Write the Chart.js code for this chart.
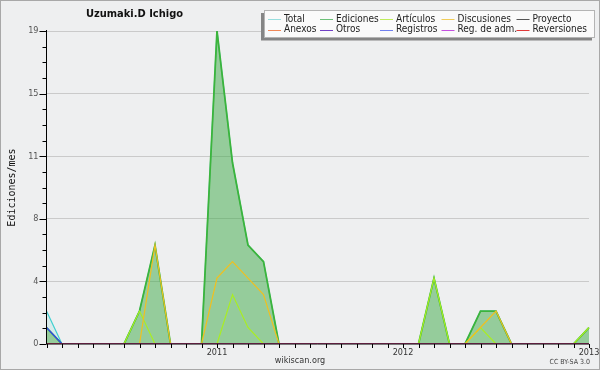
<!DOCTYPE html>
<html><head><meta charset="utf-8">
<script src="https://cdn.jsdelivr.net/npm/chart.js@4/dist/chart.umd.min.js"></script>
<style>html,body{margin:0;padding:0;background:#eeeff0;}canvas{display:block;}</style>
</head><body>
<canvas id="c" width="600" height="370"></canvas>
<script>
// ---- data ----
const months = ['2010-02','2010-03','2010-04','2010-05','2010-06','2010-07','2010-08','2010-09','2010-10','2010-11','2010-12',
  '2011-01','2011-02','2011-03','2011-04','2011-05','2011-06','2011-07','2011-08','2011-09','2011-10','2011-11','2011-12',
  '2012-01','2012-02','2012-03','2012-04','2012-05','2012-06','2012-07','2012-08','2012-09','2012-10','2012-11','2012-12',
  '2013-01'];
const seriesNames = ['Total','Ediciones','Artículos','Discusiones','Proyecto','Anexos','Otros','Registros','Reg. de adm.','Reversiones'];
const total       = [2,0,0,0,0,0,2,6,0,0,0,19,11,6,5,0,0,0,0,0,0,0,0,0,0,4,0,0,2,2,0,0,0,0,0,1];
const ediciones   = [1,0,0,0,0,0,2,6,0,0,0,19,11,6,5,0,0,0,0,0,0,0,0,0,0,4,0,0,2,2,0,0,0,0,0,1];
const articulos   = [0,0,0,0,0,0,2,0,0,0,0,0,3,1,0,0,0,0,0,0,0,0,0,0,0,4,0,0,1,0,0,0,0,0,0,1];
const discusiones = [0,0,0,0,0,0,0,6,0,0,0,4,5,4,3,0,0,0,0,0,0,0,0,0,0,0,0,0,1,2,0,0,0,0,0,0];
const proyecto    = [0,0,0,0,0,0,0,0,0,0,0,0,0,0,0,0,0,0,0,0,0,0,0,0,0,0,0,0,0,0,0,0,0,0,0,0];
const anexos      = [0,0,0,0,0,0,0,0,0,0,0,0,0,0,0,0,0,0,0,0,0,0,0,0,0,0,0,0,0,0,0,0,0,0,0,0];
const otros       = [0,0,0,0,0,0,0,0,0,0,0,0,0,0,0,0,0,0,0,0,0,0,0,0,0,0,0,0,0,0,0,0,0,0,0,0];
const registros   = [1,0,0,0,0,0,0,0,0,0,0,0,0,0,0,0,0,0,0,0,0,0,0,0,0,0,0,0,0,0,0,0,0,0,0,0];
const regAdm      = [0,0,0,0,0,0,0,0,0,0,0,0,0,0,0,0,0,0,0,0,0,0,0,0,0,0,0,0,0,0,0,0,0,0,0,0];
const reversiones = [0,0,0,0,0,0,0,0,0,0,0,0,0,0,0,0,0,0,0,0,0,0,0,0,0,0,0,0,0,0,0,0,0,0,0,0];
const yTickValues = [0, 3.8, 7.6, 11.4, 15.2, 19];
const yTickLabels = ['0','4','8','11','15','19'];
const yMax = 19;

// ---- styles ----
const COND = '"DejaVu Sans Condensed", "DejaVu Sans", sans-serif';
const lineColors = ['#40d0d0','#3cb43c','#aaee22','#f0c020','#555555','#f08040','#6a3cc0','#3344ee','#c040e0','#e03030'];
const legendColors = ['#98dede','#6cc078','#bfec5c','#f0cc58','#555555','#f08858','#7040c4','#7080ee','#c450e0','#e03838'];
const allSeries = [total, ediciones, articulos, discusiones, proyecto, anexos, otros, registros, regAdm, reversiones];

const datasets = allSeries.map((d, i) => ({
  label: seriesNames[i],
  data: d,
  borderColor: lineColors[i],
  borderWidth: i === 1 ? 1.8 : 1.2,
  pointRadius: 0,
  tension: 0,
  order: 20 - i,
  fill: i === 0 ? '+1' : (i === 1 ? 'origin' : false),
  backgroundColor: i === 0 ? 'rgba(64,208,208,0.12)' : (i === 1 ? 'rgba(60,170,70,0.5)' : 'transparent')
}));

const decor = {
  id: 'decor',
  afterDatasetsDraw(chart) {
    const ctx = chart.ctx, a = chart.chartArea, y = chart.scales.y, x = chart.scales.x;
    ctx.save();
    ctx.strokeStyle = '#000'; ctx.lineWidth = 1;
    ctx.beginPath();
    ctx.moveTo(a.left, a.top - 1); ctx.lineTo(a.left, a.bottom);
    ctx.lineTo(a.right, a.bottom);
    ctx.stroke();
    for (let i = 0; i <= 20; i++) {
      const py = Math.round(y.getPixelForValue(i * yMax / 20)) + 0.5;
      const len = (i % 4 === 0) ? 7 : 4;
      ctx.beginPath(); ctx.moveTo(a.left - len, py); ctx.lineTo(a.left, py); ctx.stroke();
    }
    for (let i = 0; i < months.length; i++) {
      const px = Math.round(x.getPixelForValue(i)) + 0.5;
      ctx.beginPath(); ctx.moveTo(px, a.bottom); ctx.lineTo(px, a.bottom + 4); ctx.stroke();
    }
    ctx.restore();
  },
  afterDraw(chart) {
    const ctx = chart.ctx, a = chart.chartArea;
    ctx.save();
    ctx.strokeStyle = '#a8a8a8'; ctx.lineWidth = 1;
    ctx.strokeRect(0.5, 0.5, 599, 369);
    ctx.fillStyle = '#111'; ctx.font = 'bold 11px ' + COND;
    ctx.textAlign = 'center'; ctx.textBaseline = 'middle';
    ctx.fillText('Uzumaki.D Ichigo', 134.5, 14);
    ctx.save();
    ctx.translate(12, (a.top + a.bottom) / 2);
    ctx.rotate(-Math.PI / 2);
    ctx.font = '10px "DejaVu Sans Mono", monospace';
    ctx.fillStyle = '#111';
    ctx.fillText('Ediciones/mes', 0, 0);
    ctx.restore();
    ctx.font = '9px ' + COND; ctx.fillStyle = '#333';
    ctx.fillText('wikiscan.org', 300, 361);
    ctx.font = '7px ' + COND; ctx.fillStyle = '#444'; ctx.textAlign = 'right';
    ctx.fillText('CC BY-SA 3.0', 590, 362);
    ctx.fillStyle = '#858585'; ctx.fillRect(261, 13, 331, 27.5);
    ctx.fillStyle = '#fafafa'; ctx.fillRect(264, 10, 331, 28);
    ctx.strokeStyle = '#b4b4b4'; ctx.strokeRect(264.5, 10.5, 330, 27);
    const colX = [268, 320, 380, 441.5, 516.5];
    const rowY = [19, 29.5];
    ctx.font = '10px ' + COND; ctx.textAlign = 'left'; ctx.textBaseline = 'middle';
    chart.data.datasets.forEach((ds, i) => {
      const cx = colX[i % 5], cy = rowY[Math.floor(i / 5)];
      ctx.strokeStyle = legendColors[i]; ctx.lineWidth = 1;
      ctx.beginPath(); ctx.moveTo(cx, Math.round(cy) + 0.5); ctx.lineTo(cx + 13, Math.round(cy) + 0.5); ctx.stroke();
      ctx.fillStyle = '#222';
      ctx.fillText(ds.label, cx + 16, cy);
    });
    ctx.restore();
  }
};

new Chart(document.getElementById('c'), {
  type: 'line',
  data: { labels: months, datasets },
  options: {
    responsive: false, animation: false, devicePixelRatio: 1,
    layout: { padding: { left: 0, right: 11, top: 31, bottom: 0 } },
    plugins: { legend: { display: false }, title: { display: false }, tooltip: { enabled: false } },
    scales: {
      x: {
        type: 'category', offset: false,
        grid: { display: false }, border: { display: false },
        ticks: {
          autoSkip: false, maxRotation: 0, minRotation: 0, padding: -5,
          color: '#333', font: { family: COND, size: 9 },
          callback: function (v, i) { const m = months[i]; return m.endsWith('-01') ? m.slice(0, 4) : ''; }
        },
        afterFit: s => { s.height = 26; }
      },
      y: {
        min: 0, max: yMax,
        grid: { drawTicks: false, color: c => (c.tick && c.tick.value === 0) ? 'rgba(0,0,0,0)' : '#cacaca' },
        border: { display: false },
        afterBuildTicks: s => { s.ticks = yTickValues.map(v => ({ value: v })); },
        ticks: {
          padding: 8, color: '#555', font: { family: COND, size: 9 },
          callback: function (v) { const k = yTickValues.indexOf(v); return k >= 0 ? yTickLabels[k] : ''; }
        },
        afterFit: s => { s.width = 46.5; }
      }
    }
  },
  plugins: [decor]
});
</script>
</body></html>
